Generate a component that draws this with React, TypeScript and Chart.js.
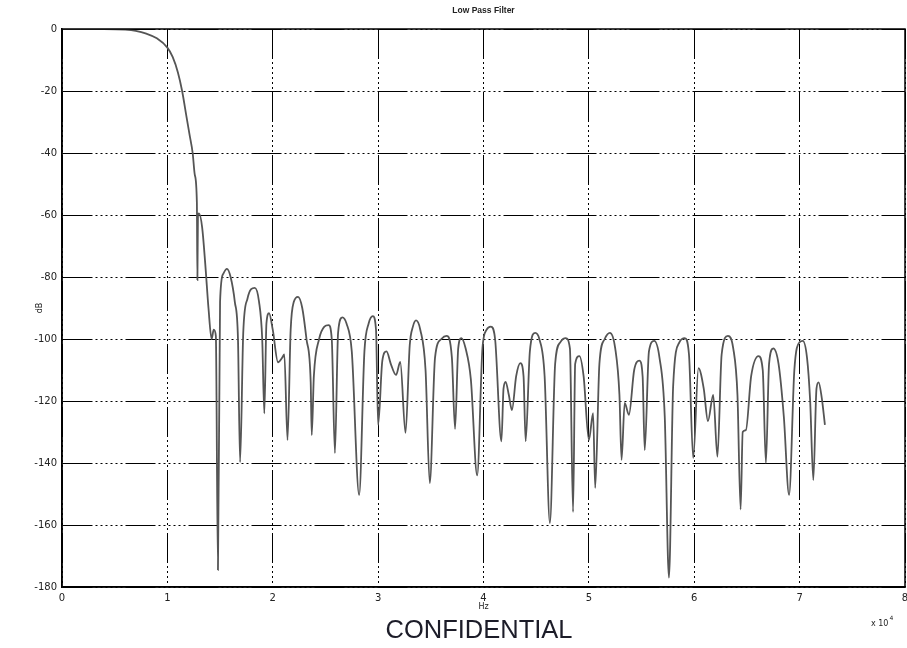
import { useEffect, useRef } from "react";
import { Chart, registerables } from "chart.js";

Chart.register(...registerables);

// Frequency in units of 1e4 Hz
const freqX1e4 = [
  0.0, 0.4, 0.6, 0.7, 0.8, 0.9, 1.0, 1.05, 1.1, 1.14, 1.18, 1.21, 1.24, 1.26, 1.28, 1.285, 1.29, 1.3, 1.33, 1.36,
  1.39, 1.42, 1.44, 1.46, 1.48, 1.5, 1.53, 1.565, 1.6, 1.64, 1.67, 1.69, 1.72, 1.76, 1.83, 1.87, 1.9, 1.92, 1.94, 1.965,
  2.0, 2.05, 2.09, 2.11, 2.14, 2.17, 2.2, 2.24, 2.28, 2.32, 2.36, 2.37, 2.39, 2.44, 2.49, 2.53, 2.56, 2.59, 2.62, 2.66,
  2.7, 2.75, 2.82, 2.87, 2.91, 2.95, 2.98, 3.0, 3.04, 3.08, 3.12, 3.17, 3.21, 3.26, 3.3, 3.33, 3.36, 3.4, 3.45, 3.49,
  3.54, 3.6, 3.65, 3.7, 3.73, 3.76, 3.79, 3.83, 3.88, 3.94, 3.99, 4.03, 4.07, 4.11, 4.17, 4.19, 4.21, 4.24, 4.27, 4.31,
  4.35, 4.38, 4.4, 4.44, 4.49, 4.53, 4.58, 4.63, 4.68, 4.73, 4.78, 4.82, 4.85, 4.87, 4.91, 4.95, 5.0, 5.04, 5.06, 5.1,
  5.15, 5.2, 5.25, 5.29, 5.31, 5.34, 5.38, 5.43, 5.48, 5.51, 5.53, 5.57, 5.62, 5.67, 5.72, 5.76, 5.8, 5.86, 5.91, 5.95,
  5.99, 6.04, 6.09, 6.13, 6.18, 6.22, 6.26, 6.32, 6.37, 6.41, 6.44, 6.46, 6.49, 6.54, 6.61, 6.65, 6.68, 6.71, 6.75, 6.8,
  6.85, 6.9, 6.95, 7.0, 7.03, 7.07, 7.1, 7.13, 7.16, 7.18, 7.21, 7.24,
];

const magnitudeDb = [
  0, 0, -0.2, -0.6, -1.5, -3, -6, -9, -14, -20, -28, -34, -40, -47, -56, -81, -60, -59.5, -64, -76,
  -90, -100, -97, -99, -174.5, -88, -79, -77.4, -80, -88, -100, -139.7, -98, -87, -83.5, -88, -100, -124, -95, -91.7,
  -97, -107.5, -106, -105, -132.6, -97, -88, -86.4, -90, -100, -113.8, -131, -112, -100, -96, -95.5, -100, -136.8, -98, -93,
  -95, -104, -150.3, -104, -95, -92.6, -97, -127.7, -107, -104, -108, -111.6, -107.4, -130.3, -102, -96, -94, -97, -110, -146.5,
  -106, -100, -99, -106, -129, -103, -99.7, -103, -113, -144, -103, -97, -96, -100, -133, -116, -113.8, -118, -122.9, -112,
  -107.8, -112, -133, -104, -98, -100, -112, -159.4, -108, -101, -99.7, -103, -155.8, -108, -105.5, -112, -132.6, -123.9, -148, -108,
  -100, -98, -103, -118, -139, -120.6, -124.5, -110, -107, -112, -135.8, -104, -100.6, -106, -125, -177, -115, -101, -99.7, -105,
  -138.4, -109.4, -116, -126.5, -118, -138, -105, -99, -103, -118, -155, -130, -129.4, -112, -105.5, -110, -140, -108, -103, -108,
  -125, -150.3, -110, -101, -100.6, -106, -120, -145.5, -116, -114, -119, -127.7,
];

const xTickValues = [0, 1, 2, 3, 4, 5, 6, 7, 8];
const yTickValues = [0, -20, -40, -60, -80, -100, -120, -140, -160, -180];

const titleText = "Low Pass Filter";
const xLabel = "Hz";
const yLabel = "dB";
const xExponentBase = "x 10";
const xExponent = "4";
const watermark = "CONFIDENTIAL";

const GRID_DASH = [30, 3, 2, 3, 2, 3, 2, 3, 2, 3, 2, 3, 2, 3];

const extrasPlugin = {
  id: "extras",
  afterDraw(chart: any) {
    const { ctx, chartArea } = chart;
    ctx.save();
    // solid frame
    ctx.strokeStyle = "#000";
    ctx.lineWidth = 1.5;
    ctx.setLineDash([]);
    ctx.strokeRect(chartArea.left, chartArea.top, chartArea.right - chartArea.left, chartArea.bottom - chartArea.top);
    // exponent label
    ctx.fillStyle = "#222";
    ctx.textBaseline = "middle";
    ctx.textAlign = "left";
    ctx.font = "8px 'DejaVu Sans'";
    ctx.fillText(xExponentBase, 871, 624);
    const w = ctx.measureText(xExponentBase).width;
    ctx.font = "6px 'DejaVu Sans'";
    ctx.fillText(xExponent, 871 + w + 1, 618);
    // watermark
    ctx.font = "25.5px 'Liberation Sans'";
    ctx.textAlign = "center";
    ctx.fillStyle = "#1c1c28";
    ctx.fillText(watermark, 479, 631);
    ctx.restore();
  },
};

export default function App() {
  const canvasRef = useRef<HTMLCanvasElement | null>(null);

  useEffect(() => {
    if (!canvasRef.current) return;
    const points = freqX1e4.map((x, i) => ({ x, y: magnitudeDb[i] }));
    const chart = new Chart(canvasRef.current, {
      type: "line",
      data: {
        datasets: [
          {
            data: points,
            borderColor: "#555",
            borderWidth: 1.8,
            pointRadius: 0,
            cubicInterpolationMode: "monotone",
            fill: false,
          },
        ],
      },
      options: {
        animation: false,
        responsive: false,
        maintainAspectRatio: false,
        layout: { padding: { left: 0, right: 2, top: 0, bottom: 0 } },
        plugins: {
          legend: { display: false },
          tooltip: { enabled: false },
          title: {
            display: true,
            text: titleText,
            fullSize: false,
            color: "#222",
            font: { family: "'Liberation Sans'", size: 8.5, weight: "bold" },
            padding: { top: 6, bottom: 12.8 },
          },
        },
        scales: {
          x: {
            type: "linear",
            min: 0,
            max: 8,
            afterBuildTicks: (s: any) => {
              s.ticks = xTickValues.map((v) => ({ value: v }));
            },
            afterFit: (s: any) => {
              s.height = 61;
              s.paddingLeft = 0;
              s.paddingRight = 0;
            },
            ticks: {
              color: "#222",
              font: { family: "'DejaVu Sans'", size: 10 },
              padding: 5,
              maxRotation: 0,
              autoSkip: false,
              callback: (v: any) => String(v),
            },
            grid: { color: "#000", lineWidth: 1, drawTicks: false },
            border: { color: "#000", width: 1.5, dash: GRID_DASH },
            title: {
              display: true,
              text: xLabel,
              color: "#222",
              font: { family: "'DejaVu Sans'", size: 8 },
              padding: { top: 0, bottom: 36 },
            },
          },
          y: {
            type: "linear",
            min: -180,
            max: 0,
            afterBuildTicks: (s: any) => {
              s.ticks = yTickValues.map((v) => ({ value: v }));
            },
            afterFit: (s: any) => {
              s.width = 62;
              s.paddingTop = 0;
              s.paddingBottom = 0;
            },
            ticks: {
              color: "#222",
              font: { family: "'DejaVu Sans'", size: 10 },
              padding: 5,
              autoSkip: false,
              callback: (v: any) => String(v),
            },
            grid: { color: "#000", lineWidth: 1, drawTicks: false },
            border: { color: "#000", width: 1.5, dash: GRID_DASH },
            title: {
              display: true,
              text: yLabel,
              color: "#222",
              font: { family: "'DejaVu Sans'", size: 8 },
              padding: { top: 35, bottom: 0 },
            },
          },
        },
      },
      plugins: [extrasPlugin],
    });
    return () => chart.destroy();
  }, []);

  return (
    <div style={{ position: "absolute", left: 0, top: 0, width: 907, height: 648, background: "#fff" }}>
      <canvas ref={canvasRef} width={907} height={648} style={{ width: 907, height: 648, display: "block" }} />
    </div>
  );
}
